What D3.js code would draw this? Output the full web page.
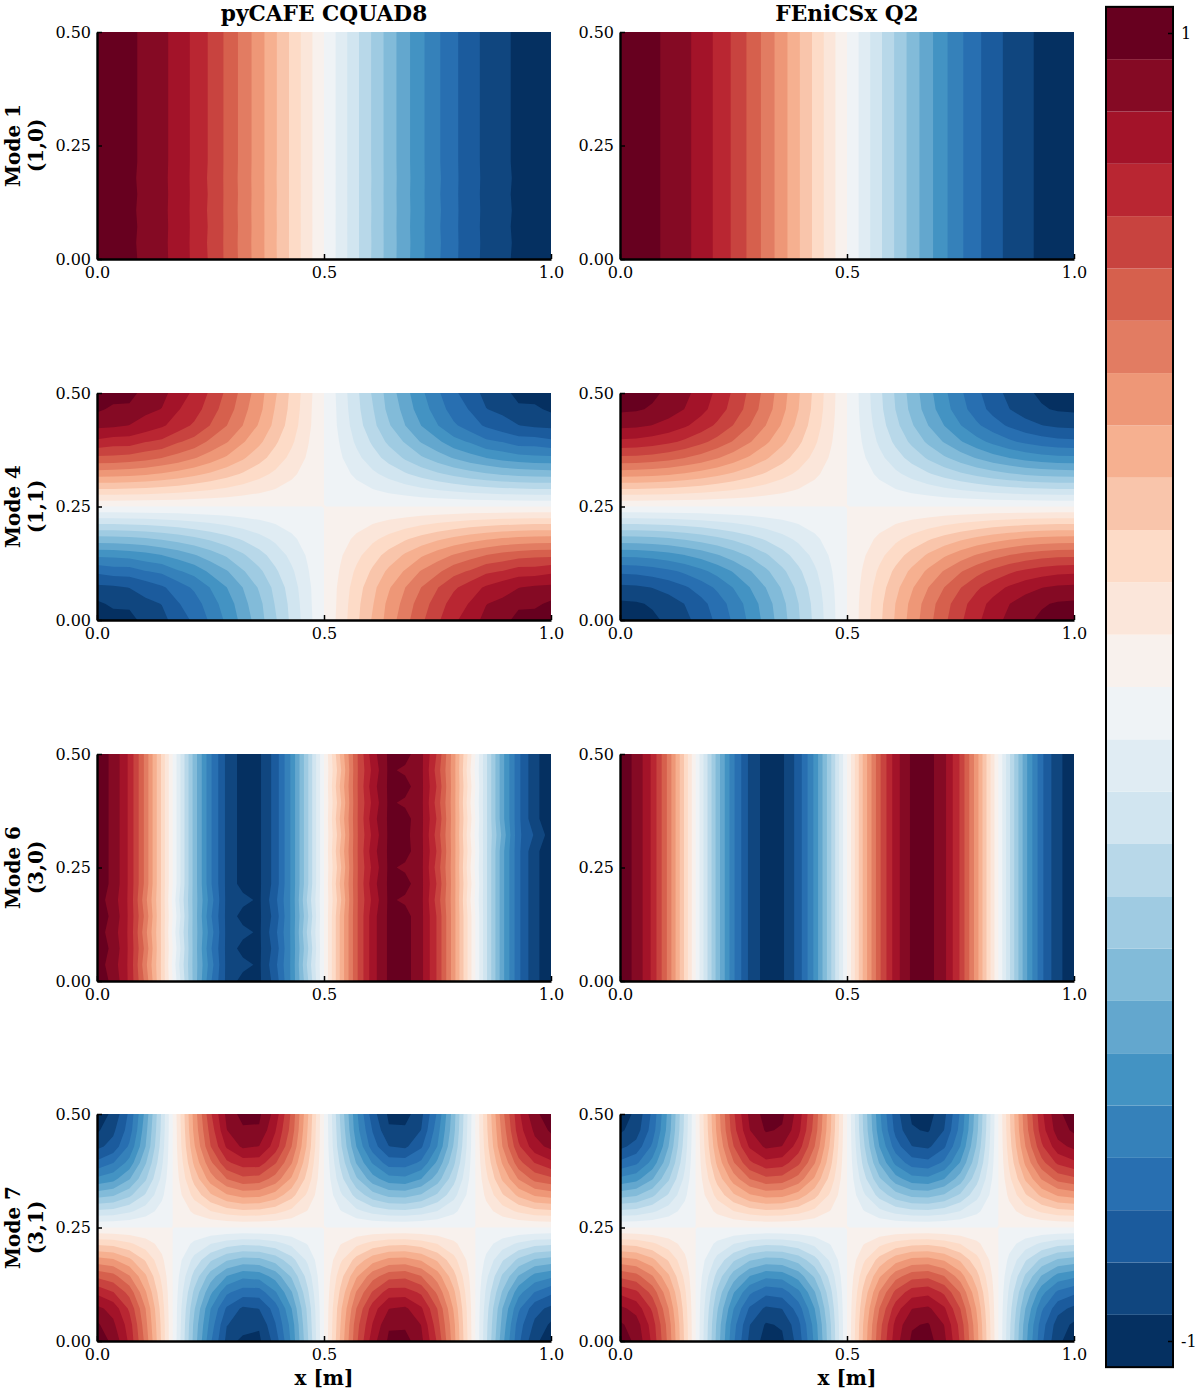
<!DOCTYPE html>
<html>
<head>
<meta charset="utf-8">
<script src="https://cdn.jsdelivr.net/npm/d3@7"></script>
<style>
  html, body { margin: 0; padding: 0; background: #fff; }
  svg { display: block; }
  text { font-family: "DejaVu Serif", serif; fill: #000; }
  .tick text { font-size: 16px; }
  .tick line { stroke: #000; stroke-width: 1.5; }
  .domain { stroke: #000; stroke-width: 2.4; }
  .head { font-size: 20px; font-weight: bold; }
  .title { font-size: 21.7px; font-weight: bold; }
</style>
</head>
<body>
<svg id="chart" width="1200" height="1394"></svg>
<script>
// labels
var colTitles = ["pyCAFE CQUAD8", "FEniCSx Q2"];
var modeNames = ["Mode 1", "Mode 4", "Mode 6", "Mode 7"];
var modeIndices = ["(1,0)", "(1,1)", "(3,0)", "(3,1)"];
var xLabel = "x [m]";
var xTicks = [0, 0.5, 1];
var yTicks = [0, 0.25, 0.5];
var barTicks = [1, -1];

// contour levels of the shared colour bar
var levels = [-1.04, -0.96, -0.88, -0.8, -0.72, -0.64, -0.56, -0.48, -0.4, -0.32, -0.24, -0.16, -0.08, 0,
  0.08, 0.16, 0.24, 0.32, 0.4, 0.48, 0.56, 0.64, 0.72, 0.8, 0.88, 0.96, 1.04];
var rdbuAnchors = ["#053061", "#2166ac", "#4393c3", "#92c5de", "#d1e5f0", "#f7f7f7", "#fddbc7", "#f4a582", "#d6604d", "#b2182b", "#67001f"];

// Values. Rows run from y=0.5 (top) down to y=0, columns from x=0 to x=1.

// mode 1: only depends on x
var mode1Base = [1,.994,.975,.944,.901,.847,.782,.707,.623,.532,.434,.330,.223,.112,0,-.112,-.223,-.330,-.434,-.532,-.623,-.707,-.782,-.847,-.901,-.944,-.975,-.994,-1];
var mode1Wavy = [1,.989,.975,.939,.901,.843,.782,.703,.623,.529,.434,.328,.223,.111,0,-.111,-.223,-.328,-.434,-.529,-.623,-.703,-.782,-.843,-.901,-.939,-.975,-.989,-1];
var mode1Cafe = [mode1Base, mode1Base, mode1Base, mode1Base, mode1Base, mode1Base, mode1Base, mode1Base,
  mode1Base, mode1Wavy, mode1Base, mode1Wavy, mode1Base, mode1Wavy, mode1Base];
var mode1Fenics = [mode1Base, mode1Base, mode1Base, mode1Base, mode1Base, mode1Base, mode1Base, mode1Base,
  mode1Base, mode1Base, mode1Base, mode1Base, mode1Base, mode1Base, mode1Base];

// mode 4
var mode4Fenics = [
  [1,.994,.975,.944,.901,.847,.782,.707,.623,.532,.434,.330,.222,.112,0,-.112,-.222,-.330,-.434,-.532,-.623,-.707,-.782,-.847,-.901,-.944,-.975,-.994,-1],
  [.975,.969,.951,.920,.878,.826,.762,.689,.607,.519,.423,.322,.216,.109,0,-.109,-.216,-.322,-.423,-.519,-.607,-.689,-.762,-.826,-.878,-.920,-.951,-.969,-.975],
  [.901,.896,.878,.851,.812,.763,.705,.637,.561,.479,.391,.297,.200,.101,0,-.101,-.200,-.297,-.391,-.479,-.561,-.637,-.705,-.763,-.812,-.851,-.878,-.896,-.901],
  [.782,.777,.762,.738,.705,.662,.611,.553,.487,.416,.339,.258,.174,.088,0,-.088,-.174,-.258,-.339,-.416,-.487,-.553,-.611,-.662,-.705,-.738,-.762,-.777,-.782],
  [.623,.619,.607,.588,.561,.528,.487,.440,.388,.331,.270,.206,.138,.070,0,-.070,-.138,-.206,-.270,-.331,-.388,-.440,-.487,-.528,-.561,-.588,-.607,-.619,-.623],
  [.434,.431,.423,.410,.391,.368,.339,.307,.270,.231,.188,.143,.096,.049,0,-.049,-.096,-.143,-.188,-.231,-.270,-.307,-.339,-.368,-.391,-.410,-.423,-.431,-.434],
  [.223,.222,.217,.211,.201,.189,.174,.158,.139,.119,.097,.074,.050,.025,0,-.025,-.050,-.074,-.097,-.119,-.139,-.158,-.174,-.189,-.201,-.211,-.217,-.222,-.223],
  [0,0,0,0,0,0,0,0,0,0,0,0,0,0,0,0,0,0,0,0,0,0,0,0,0,0,0,0,0],
  [-.223,-.222,-.217,-.211,-.201,-.189,-.174,-.158,-.139,-.119,-.097,-.074,-.050,-.025,0,.025,.050,.074,.097,.119,.139,.158,.174,.189,.201,.211,.217,.222,.223],
  [-.434,-.431,-.423,-.410,-.391,-.368,-.339,-.307,-.270,-.231,-.188,-.143,-.096,-.049,0,.049,.096,.143,.188,.231,.270,.307,.339,.368,.391,.410,.423,.431,.434],
  [-.623,-.619,-.607,-.588,-.561,-.528,-.487,-.440,-.388,-.331,-.270,-.206,-.138,-.070,0,.070,.138,.206,.270,.331,.388,.440,.487,.528,.561,.588,.607,.619,.623],
  [-.782,-.777,-.762,-.738,-.705,-.662,-.611,-.553,-.487,-.416,-.339,-.258,-.174,-.088,0,.088,.174,.258,.339,.416,.487,.553,.611,.662,.705,.738,.762,.777,.782],
  [-.901,-.896,-.878,-.851,-.812,-.763,-.705,-.637,-.561,-.479,-.391,-.297,-.200,-.101,0,.101,.200,.297,.391,.479,.561,.637,.705,.763,.812,.851,.878,.896,.901],
  [-.975,-.969,-.951,-.920,-.878,-.826,-.762,-.689,-.607,-.519,-.423,-.322,-.216,-.109,0,.109,.216,.322,.423,.519,.607,.689,.762,.826,.878,.920,.951,.969,.975],
  [-1,-.994,-.975,-.944,-.901,-.847,-.782,-.707,-.623,-.532,-.434,-.330,-.222,-.112,0,.112,.222,.330,.434,.532,.623,.707,.782,.847,.901,.944,.975,.994,1]
];
// pyCAFE differs from FEniCSx only on some rows
var mode4CafeRow1 = [.975,.945,.951,.897,.878,.805,.762,.672,.607,.506,.423,.314,.216,.106,0,-.106,-.216,-.314,-.423,-.506,-.607,-.672,-.762,-.805,-.878,-.897,-.951,-.945,-.975];
var mode4CafeRow3 = [.782,.761,.762,.723,.705,.649,.611,.542,.487,.408,.339,.253,.174,.086,0,-.086,-.174,-.253,-.339,-.408,-.487,-.542,-.611,-.649,-.705,-.723,-.762,-.761,-.782];
var mode4CafeRow11 = [-.782,-.761,-.762,-.723,-.705,-.649,-.611,-.542,-.487,-.408,-.339,-.253,-.174,-.086,0,.086,.174,.253,.339,.408,.487,.542,.611,.649,.705,.723,.762,.761,.782];
var mode4CafeRow13 = [-.975,-.945,-.951,-.897,-.878,-.805,-.762,-.672,-.607,-.506,-.423,-.314,-.216,-.106,0,.106,.216,.314,.423,.506,.607,.672,.762,.805,.878,.897,.951,.945,.975];

// mode 6: only depends on x, the pyCAFE bands have jagged edges on some rows
var mode6Base = [1,.944,.782,.532,.223,-.112,-.434,-.707,-.901,-.994,-.975,-.847,-.623,-.330,0,.330,.623,.847,.975,.994,.901,.707,.434,.112,-.223,-.532,-.782,-.944,-1];
var mode6JagL = [1,.92,.782,.50,.223,-.14,-.434,-.68,-.901,-.933,-.975,-.82,-.623,-.30,0,.330,.623,.847,.975,.994,.901,.707,.434,.112,-.223,-.532,-.782,-.944,-1];
var mode6JagR = [1,.944,.782,.532,.223,-.112,-.434,-.707,-.901,-.994,-.975,-.847,-.623,-.330,0,.30,.623,.82,.975,.944,.901,.68,.434,.09,-.223,-.532,-.782,-.944,-1];
var mode6JagLR = [1,.92,.782,.50,.223,-.14,-.434,-.68,-.901,-.933,-.975,-.82,-.623,-.30,0,.30,.623,.82,.975,.944,.901,.68,.434,.09,-.223,-.532,-.782,-.944,-1];
var mode6JagEnd = [1,.944,.782,.532,.223,-.112,-.434,-.707,-.901,-.994,-.975,-.847,-.623,-.330,0,.30,.623,.82,.975,.985,.901,.68,.434,.09,-.223,-.50,-.782,-.89,-1];
var mode6Cafe = [mode6Base, mode6JagR, mode6Base, mode6JagR, mode6Base, mode6JagEnd, mode6Base, mode6JagR,
  mode6Base, mode6JagLR, mode6Base, mode6JagL, mode6Base, mode6JagL, mode6Base];
var mode6Fenics = [mode6Base, mode6Base, mode6Base, mode6Base, mode6Base, mode6Base, mode6Base, mode6Base,
  mode6Base, mode6Base, mode6Base, mode6Base, mode6Base, mode6Base, mode6Base];

// mode 7
var mode7Fenics = [
  [-1,-.944,-.782,-.532,-.223,.112,.434,.707,.901,.994,.975,.847,.623,.330,0,-.330,-.623,-.847,-.975,-.994,-.901,-.707,-.434,-.112,.223,.532,.782,.944,1],
  [-.975,-.920,-.762,-.519,-.217,.109,.423,.689,.878,.969,.951,.826,.607,.322,0,-.322,-.607,-.826,-.951,-.969,-.878,-.689,-.423,-.109,.217,.519,.762,.920,.975],
  [-.901,-.851,-.705,-.479,-.201,.101,.391,.637,.812,.896,.878,.763,.561,.297,0,-.297,-.561,-.763,-.878,-.896,-.812,-.637,-.391,-.101,.201,.479,.705,.851,.901],
  [-.782,-.738,-.611,-.416,-.174,.088,.339,.553,.705,.777,.762,.662,.487,.258,0,-.258,-.487,-.662,-.762,-.777,-.705,-.553,-.339,-.088,.174,.416,.611,.738,.782],
  [-.623,-.588,-.487,-.331,-.139,.070,.270,.440,.561,.619,.607,.528,.388,.206,0,-.206,-.388,-.528,-.607,-.619,-.561,-.440,-.270,-.070,.139,.331,.487,.588,.623],
  [-.434,-.410,-.339,-.231,-.097,.049,.188,.307,.391,.431,.423,.368,.270,.143,0,-.143,-.270,-.368,-.423,-.431,-.391,-.307,-.188,-.049,.097,.231,.339,.410,.434],
  [-.223,-.211,-.174,-.119,-.050,.025,.097,.158,.201,.222,.217,.189,.139,.074,0,-.074,-.139,-.189,-.217,-.222,-.201,-.158,-.097,-.025,.050,.119,.174,.211,.223],
  [0,0,0,0,0,0,0,0,0,0,0,0,0,0,0,0,0,0,0,0,0,0,0,0,0,0,0,0,0],
  [.223,.211,.174,.119,.050,-.025,-.097,-.158,-.201,-.222,-.217,-.189,-.139,-.074,0,.074,.139,.189,.217,.222,.201,.158,.097,.025,-.050,-.119,-.174,-.211,-.223],
  [.434,.410,.339,.231,.097,-.049,-.188,-.307,-.391,-.431,-.423,-.368,-.270,-.143,0,.143,.270,.368,.423,.431,.391,.307,.188,.049,-.097,-.231,-.339,-.410,-.434],
  [.623,.588,.487,.331,.139,-.070,-.270,-.440,-.561,-.619,-.607,-.528,-.388,-.206,0,.206,.388,.528,.607,.619,.561,.440,.270,.070,-.139,-.331,-.487,-.588,-.623],
  [.782,.738,.611,.416,.174,-.088,-.339,-.553,-.705,-.777,-.762,-.662,-.487,-.258,0,.258,.487,.662,.762,.777,.705,.553,.339,.088,-.174,-.416,-.611,-.738,-.782],
  [.901,.851,.705,.479,.201,-.101,-.391,-.637,-.812,-.896,-.878,-.763,-.561,-.297,0,.297,.561,.763,.878,.896,.812,.637,.391,.101,-.201,-.479,-.705,-.851,-.901],
  [.975,.920,.762,.519,.217,-.109,-.423,-.689,-.878,-.969,-.951,-.826,-.607,-.322,0,.322,.607,.826,.951,.969,.878,.689,.423,.109,-.217,-.519,-.762,-.920,-.975],
  [1,.944,.782,.532,.223,-.112,-.434,-.707,-.901,-.994,-.975,-.847,-.623,-.330,0,.330,.623,.847,.975,.994,.901,.707,.434,.112,-.223,-.532,-.782,-.944,-1]
];
var mode7CafeRow1 = [-.975,-.897,-.762,-.506,-.217,.106,.423,.672,.878,.945,.951,.805,.607,.314,0,-.314,-.607,-.805,-.951,-.945,-.878,-.672,-.423,-.106,.217,.506,.762,.897,.975];
var mode7CafeRow3 = [-.782,-.723,-.611,-.408,-.174,.086,.339,.542,.705,.761,.762,.649,.487,.253,0,-.253,-.487,-.649,-.762,-.761,-.705,-.542,-.339,-.086,.174,.408,.611,.723,.782];
var mode7CafeRow11 = [.782,.723,.611,.408,.174,-.086,-.339,-.542,-.705,-.761,-.762,-.649,-.487,-.253,0,.253,.487,.649,.762,.761,.705,.542,.339,.086,-.174,-.408,-.611,-.723,-.782];
var mode7CafeRow13 = [.975,.897,.762,.506,.217,-.106,-.423,-.672,-.878,-.90,-.951,-.805,-.607,-.314,0,.314,.607,.805,.951,.945,.878,.672,.423,.106,-.217,-.506,-.762,-.897,-.975];

// swap the rows that differ
function withRows(grid, rows) {
  var out = grid.slice();
  Object.keys(rows).forEach(function(r) { out[+r] = rows[r]; });
  return out;
}
var mode4Cafe = withRows(mode4Fenics, {1: mode4CafeRow1, 3: mode4CafeRow3, 11: mode4CafeRow11, 13: mode4CafeRow13});
var mode7Cafe = withRows(mode7Fenics, {1: mode7CafeRow1, 3: mode7CafeRow3, 11: mode7CafeRow11, 13: mode7CafeRow13});

var panelGrids = [
  [mode1Cafe, mode1Fenics],
  [mode4Cafe, mode4Fenics],
  [mode6Cafe, mode6Fenics],
  [mode7Cafe, mode7Fenics]
];

// layout
var colLeft = [97, 620];
var rowTop = [32, 393, 754, 1114];
var plotW = 454;
var plotH = 227;

var svg = d3.select("#chart");

var colorT = d3.scaleLinear()
  .domain(d3.range(rdbuAnchors.length).map(function(i) { return i / (rdbuAnchors.length - 1); }))
  .range(rdbuAnchors);
// matplotlib style: one colour per band, ends of the map on the outer bands
var bandColors = d3.range(levels.length - 1).map(function(i) {
  return colorT(i / (levels.length - 2));
});

var xScale = d3.scaleLinear().domain([0, 1]).range([0, plotW]);
var yScale = d3.scaleLinear().domain([0, 0.5]).range([plotH, 0]);

// grid node i sits at i + 0.5 in d3.contours coordinates
function gridPath(nx, ny) {
  return d3.geoPath(d3.geoTransform({
    point: function(gx, gy) {
      var x = (gx - 0.5) / (nx - 1);
      var y = 0.5 - 0.5 * (gy - 0.5) / (ny - 1);
      this.stream.point(xScale(x), yScale(y));
    }
  }));
}

// The zero level meets itself at saddle points, where marching squares cuts a whole
// cell diagonally. Tracing that one level on a subdivided grid keeps the cross square.
function subdivide(grid, n) {
  var out = [];
  for (var r = 0; r <= (grid.length - 1) * n; r++) {
    var r0 = Math.min(Math.floor(r / n), grid.length - 2);
    var tr = r / n - r0;
    var row = [];
    for (var c = 0; c <= (grid[0].length - 1) * n; c++) {
      var c0 = Math.min(Math.floor(c / n), grid[0].length - 2);
      var tc = c / n - c0;
      row.push(d3.interpolateNumber(
        d3.interpolateNumber(grid[r0][c0], grid[r0][c0 + 1])(tc),
        d3.interpolateNumber(grid[r0 + 1][c0], grid[r0 + 1][c0 + 1])(tc)
      )(tr));
    }
    out.push(row);
  }
  return out;
}

function drawPanel(row, col) {
  var grid = panelGrids[row][col];
  var ny = grid.length;
  var nx = grid[0].length;
  var values = d3.merge(grid);

  var fine = subdivide(grid, 8);
  var fineNy = fine.length;
  var fineNx = fine[0].length;
  var fineValues = d3.merge(fine);

  var g = svg.append("g")
    .attr("transform", "translate(" + colLeft[col] + "," + rowTop[row] + ")");

  var clipId = "clip-" + row + "-" + col;
  g.append("clipPath").attr("id", clipId)
    .append("rect").attr("width", plotW).attr("height", plotH);

  var path = gridPath(nx, ny);
  var finePath = gridPath(fineNx, fineNy);
  var contours = d3.contours().size([nx, ny]).smooth(true);
  var fineContours = d3.contours().size([fineNx, fineNy]).smooth(true);
  var bands = g.append("g").attr("clip-path", "url(#" + clipId + ")");

  bands.append("rect")
    .attr("width", plotW)
    .attr("height", plotH)
    .attr("fill", bandColors[0]);

  // painted from low to high so each band covers the rest
  for (var k = 1; k < levels.length - 1; k++) {
    var d = levels[k] === 0
      ? finePath(fineContours.contour(fineValues, 0))
      : path(contours.contour(values, levels[k]));
    bands.append("path")
      .attr("d", d)
      .attr("fill", bandColors[k]);
  }

  g.append("g")
    .attr("transform", "translate(0," + plotH + ")")
    .call(d3.axisBottom(xScale).tickValues(xTicks).tickFormat(d3.format(".1f"))
      .tickSizeInner(-5).tickSizeOuter(0).tickPadding(7.5));

  g.append("g")
    .call(d3.axisLeft(yScale).tickValues(yTicks).tickFormat(d3.format(".2f"))
      .tickSizeInner(-5).tickSizeOuter(0).tickPadding(6));
}

for (var r = 0; r < panelGrids.length; r++) {
  for (var c = 0; c < colLeft.length; c++) {
    drawPanel(r, c);
  }
  var midY = rowTop[r] + plotH / 2;
  svg.append("text").attr("class", "head")
    .attr("transform", "translate(20," + midY + ") rotate(-90)")
    .attr("text-anchor", "middle")
    .text(modeNames[r]);
  svg.append("text").attr("class", "head")
    .attr("transform", "translate(43," + midY + ") rotate(-90)")
    .attr("text-anchor", "middle")
    .text(modeIndices[r]);
}

colTitles.forEach(function(t, c) {
  svg.append("text").attr("class", "title")
    .attr("x", colLeft[c] + plotW / 2)
    .attr("y", 21)
    .attr("text-anchor", "middle")
    .text(t);
  svg.append("text").attr("class", "head")
    .attr("x", colLeft[c] + plotW / 2)
    .attr("y", 1385)
    .attr("text-anchor", "middle")
    .text(xLabel);
});

// colour bar
var barLeft = 1106;
var barW = 67;
var barScale = d3.scaleLinear().domain([-1, 1]).range([1341, 33]);
var bar = svg.append("g");

bar.selectAll("rect.band")
  .data(bandColors)
  .join("rect")
  .attr("class", "band")
  .attr("x", barLeft)
  .attr("width", barW)
  .attr("y", function(d, i) { return barScale(levels[i + 1]); })
  .attr("height", function(d, i) { return barScale(levels[i]) - barScale(levels[i + 1]); })
  .attr("fill", function(d) { return d; });

var barAxis = bar.append("g")
  .attr("transform", "translate(" + (barLeft + barW) + ",0)")
  .call(d3.axisRight(barScale).tickValues(barTicks).tickFormat(String)
    .tickSizeInner(-5).tickSizeOuter(0).tickPadding(8));
barAxis.select(".domain").remove();

bar.append("rect")
  .attr("x", barLeft)
  .attr("y", barScale(levels[levels.length - 1]))
  .attr("width", barW)
  .attr("height", barScale(levels[0]) - barScale(levels[levels.length - 1]))
  .attr("fill", "none")
  .attr("stroke", "#000")
  .attr("stroke-width", 2);
</script>
</body>
</html>
